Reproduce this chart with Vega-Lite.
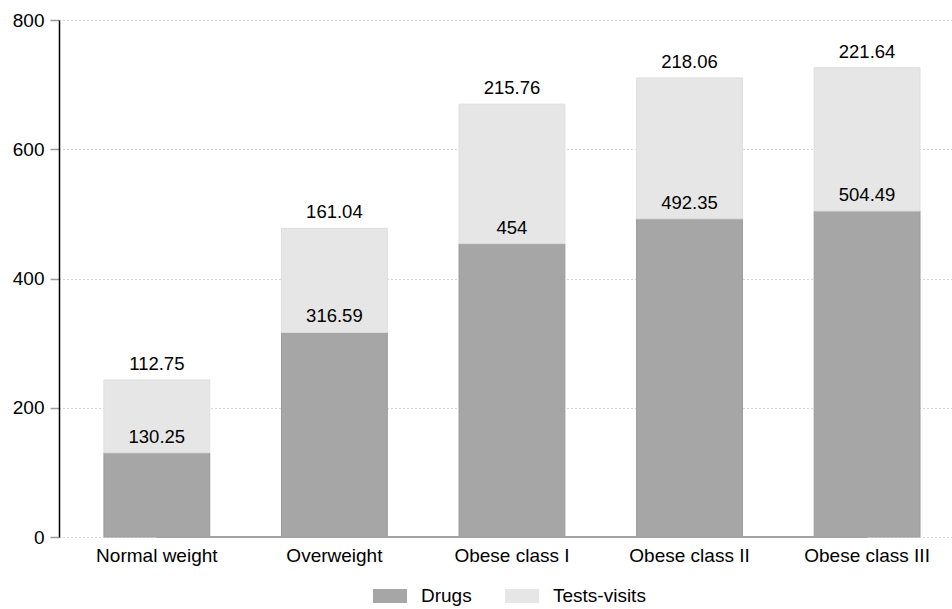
{
  "$schema": "https://vega.github.io/schema/vega-lite/v6.json",
  "autosize": "none",
  "width": 893,
  "height": 517,
  "padding": {"left": 59, "top": 20, "right": 0, "bottom": 72},
  "background": "white",
  "config": {
    "view": {"stroke": null},
    "font": "Liberation Sans",
    "axis": {"labelFont": "Liberation Sans", "labelColor": "#000", "labelFontSize": 19}
  },
  "data": {
    "values": [
      {"cat": "Normal weight", "part": "Drugs", "value": 130.25},
      {"cat": "Normal weight", "part": "Tests-visits", "value": 112.75},
      {"cat": "Overweight", "part": "Drugs", "value": 316.59},
      {"cat": "Overweight", "part": "Tests-visits", "value": 161.04},
      {"cat": "Obese class I", "part": "Drugs", "value": 454},
      {"cat": "Obese class I", "part": "Tests-visits", "value": 215.76},
      {"cat": "Obese class II", "part": "Drugs", "value": 492.35},
      {"cat": "Obese class II", "part": "Tests-visits", "value": 218.06},
      {"cat": "Obese class III", "part": "Drugs", "value": 504.49},
      {"cat": "Obese class III", "part": "Tests-visits", "value": 221.64}
    ]
  },
  "encoding": {
    "x": {
      "field": "cat", "type": "nominal", "sort": null, "title": null,
      "scale": {"paddingInner": 0.404, "paddingOuter": 0.2166, "align": 0.584},
      "axis": {"labelAngle": 0, "domain": false, "ticks": false, "labelPadding": 9, "grid": false}
    }
  },
  "layer": [
    {
      "mark": {"type": "bar", "strokeWidth": 1},
      "encoding": {
        "y": {
          "field": "value", "type": "quantitative", "stack": "zero", "title": null,
          "scale": {"domain": [0, 800], "nice": false},
          "axis": {
            "values": [0, 200, 400, 600, 800],
            "domainColor": "#000", "domainWidth": 1.5,
            "tickColor": "#999", "tickSize": 9, "tickWidth": 1.5,
            "labelPadding": 6,
            "grid": true, "gridDash": [1, 3], "gridColor": "#b0b0b0", "gridWidth": 1
          }
        },
        "order": {"field": "part", "sort": "ascending"},
        "color": {
          "field": "part", "type": "nominal", "title": null,
          "scale": {"domain": ["Drugs", "Tests-visits"], "range": ["#a6a6a6", "#e6e6e6"]},
          "legend": {
            "orient": "none", "direction": "horizontal",
            "legendX": 314, "legendY": 559,
            "symbolType": "M-1,-0.41H1V0.41H-1Z", "symbolSize": 1156,
            "symbolStrokeWidth": 0,
            "labelFontSize": 19, "labelColor": "#000", "labelFont": "Liberation Sans",
            "labelOffset": 14, "columnPadding": 33
          }
        },
        "stroke": {
          "field": "part", "type": "nominal",
          "scale": {"domain": ["Drugs", "Tests-visits"], "range": ["#9a9a9a", "#dedede"]},
          "legend": null
        }
      }
    },
    {
      "transform": [{"filter": "datum.part === 'Drugs'"}],
      "mark": {"type": "line", "color": "#a3a3a3", "strokeWidth": 2},
      "encoding": {
        "y": {"datum": 0, "type": "quantitative"}
      }
    },
    {
      "mark": {"type": "text", "baseline": "alphabetic", "align": "center", "dy": -10, "fontSize": 18.5, "color": "#000", "font": "Liberation Sans"},
      "encoding": {
        "y": {"field": "value", "type": "quantitative", "stack": "zero"},
        "order": {"field": "part", "sort": "ascending"},
        "detail": {"field": "part", "type": "nominal"},
        "text": {"field": "value", "type": "quantitative", "format": "~f"}
      }
    }
  ]
}
